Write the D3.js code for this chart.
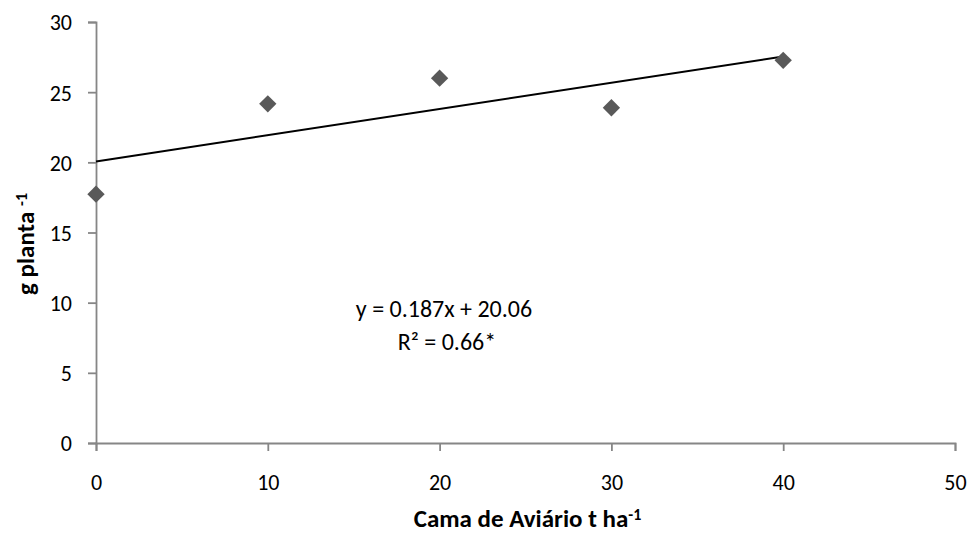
<!DOCTYPE html>
<html>
<head>
<meta charset="utf-8">
<script src="https://cdn.jsdelivr.net/npm/d3@7"></script>
<style>
  html, body { margin: 0; padding: 0; background: #fff; }
  svg { display: block; }
  text { font-family: Carlito, Lato, "Open Sans", sans-serif; }
</style>
</head>
<body>
<svg id="chart" width="977" height="534"></svg>
<script>
const doses = [0, 10, 20, 30, 40];
const massa = [17.73, 24.17, 26.0, 23.89, 27.27];
const xTicks = [0, 10, 20, 30, 40, 50];
const yTicks = [0, 5, 10, 15, 20, 25, 30];
const slope = 0.187, intercept = 20.06;
const eqLines = ["y = 0.187x + 20.06", "R² = 0.66*"];

const svg = d3.select("#chart");
const m = { left: 96, right: 22, top: 22, bottom: 91 };
const W = 977, H = 534;
const x = d3.scaleLinear().domain([0, 50]).range([m.left, W - m.right]);
const y = d3.scaleLinear().domain([0, 30]).range([H - m.bottom, m.top]);

const axisColor = "#868686";

// X axis
const gx = svg.append("g").attr("transform", `translate(0,${y(0)})`)
  .call(d3.axisBottom(x).tickValues(xTicks).tickSize(8).tickPadding(23).tickFormat(d3.format("d")));
// Y axis
const gy = svg.append("g").attr("transform", `translate(${x(0)},0)`)
  .call(d3.axisLeft(y).tickValues(yTicks).tickSize(8).tickPadding(16).tickFormat(d3.format("d")));
[gx, gy].forEach(g => {
  g.select(".domain").attr("stroke", axisColor).attr("stroke-width", 1.8);
  g.selectAll(".tick line").attr("stroke", axisColor).attr("stroke-width", 1.8);
  g.selectAll(".tick text").attr("fill", "#000").style("font-size", "22px")
    .style("font-family", "Carlito, Lato, 'Open Sans', sans-serif");
});
gy.selectAll(".tick text").attr("dy", "0.36em");

// Trend line
const trendX = [d3.min(doses), d3.max(doses)];
svg.append("path")
  .attr("d", d3.line().x(d => x(d)).y(d => y(intercept + slope * d))(trendX))
  .attr("stroke", "#000").attr("stroke-width", 2).attr("fill", "none");

// Points
const diamond = d3.symbol().type(d3.symbolSquare).size(150);
svg.append("g").selectAll("path").data(doses.map((d, i) => [d, massa[i]]))
  .join("path")
  .attr("d", diamond)
  .attr("transform", d => `translate(${x(d[0])},${y(d[1])}) rotate(45)`)
  .attr("fill", "#595959");

// Equation
svg.append("text").attr("x", 444).attr("y", 317).attr("text-anchor", "middle")
  .style("font-size", "24px").text(eqLines[0]);
svg.append("text").attr("x", 447).attr("y", 350).attr("text-anchor", "middle")
  .style("font-size", "24px").text(eqLines[1]);

// X title
const xt = svg.append("text").attr("x", (x(0) + x(50)) / 2 + 2).attr("y", 527)
  .attr("text-anchor", "middle").style("font-size", "25px").style("font-weight", "bold");
xt.append("tspan").text("Cama de Aviário t ha");
xt.append("tspan").attr("dy", "-0.45em").style("font-size", "16px").text("-1");

// Y title
const yt = svg.append("text").attr("transform", `translate(34,244) rotate(-90)`)
  .attr("text-anchor", "middle").style("font-size", "25px").style("font-weight", "bold");
yt.append("tspan").text("g planta ");
yt.append("tspan").attr("dy", "-0.45em").style("font-size", "16px").text("-1");
</script>
</body>
</html>
